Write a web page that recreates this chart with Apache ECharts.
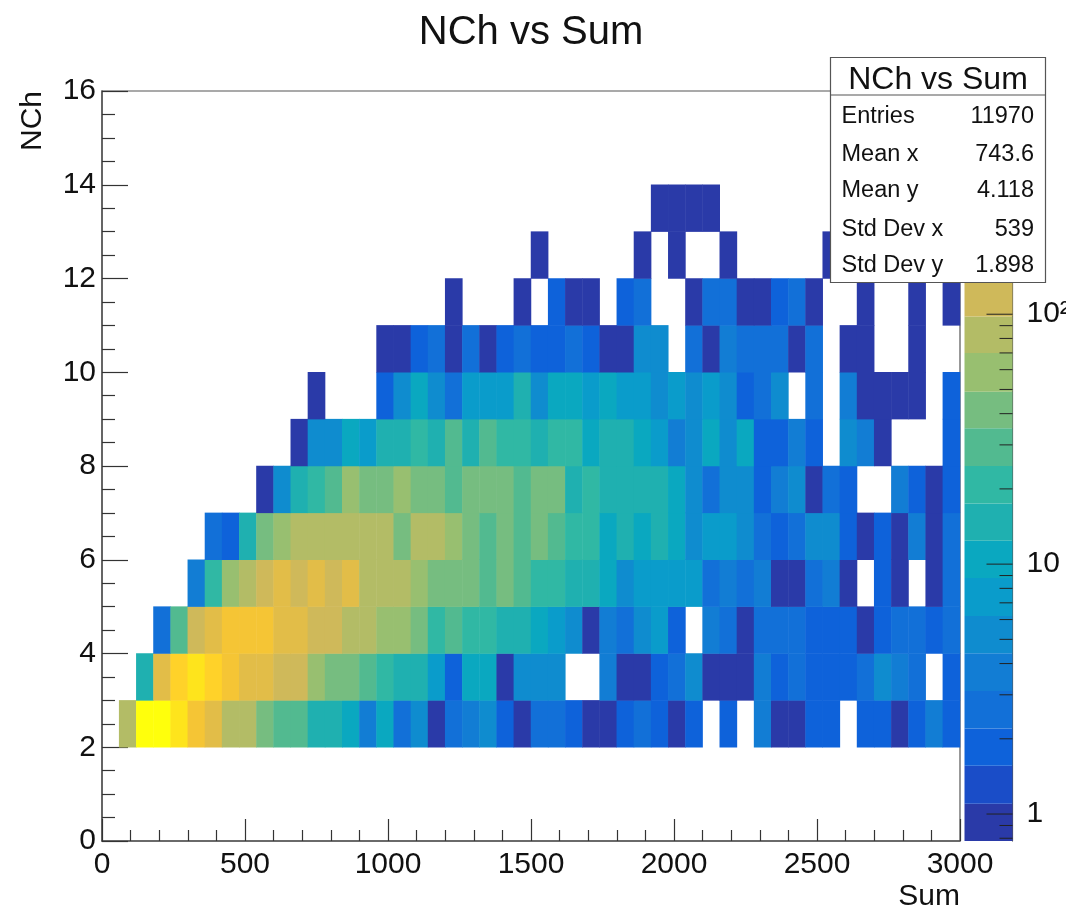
<!DOCTYPE html>
<html>
<head>
<meta charset="utf-8">
<style>html,body{margin:0;padding:0;background:#fff}#c{width:1066px;height:910px}</style>
<script src="https://cdn.jsdelivr.net/npm/echarts@6/dist/echarts.min.js"></script>
</head>
<body>
<div id="c"></div>
<script>
// Bin counts per NCh row (each row = 50 bins of width 60 in Sum). 0 = empty bin.
const nch2  = [0,85,650,650,470,235,165,85,85,42,30,30,15,15,10,4,10,3,5,1,3,4,5,2,1,3,3,2,1,1,2,3,2,1,2,0,2,0,4,1,1,2,2,0,2,2,1,2,4,2];
const nch3  = [0,0,15,165,330,470,330,235,165,165,120,120,60,42,42,30,20,15,15,7,2,10,10,1,5,5,5,0,0,4,1,1,2,3,5,1,1,1,4,2,3,2,2,2,3,5,4,3,0,2];
const nch4  = [0,0,0,3,30,120,165,235,235,235,165,165,120,120,85,85,60,60,42,20,30,20,20,15,15,10,7,5,1,4,3,5,7,2,0,4,3,1,3,3,3,2,2,2,1,2,3,3,2,3];
const nch5  = [0,0,0,0,0,4,20,60,85,120,165,120,165,120,165,85,85,85,60,42,42,42,30,42,30,20,20,15,15,10,5,7,7,7,7,3,4,3,4,1,1,3,4,1,0,2,1,0,1,3];
const nch6  = [0,0,0,0,0,0,3,2,15,42,60,85,85,85,85,85,85,42,85,85,60,42,30,42,30,42,30,20,20,10,15,10,15,10,5,7,7,5,3,2,3,5,5,2,1,2,1,4,1,3];
const nch7  = [0,0,0,0,0,0,0,0,0,1,5,15,20,30,60,42,42,60,42,42,30,42,42,42,30,42,42,15,20,15,15,15,15,10,5,3,5,5,2,4,5,1,3,2,0,0,4,2,1,2];
const nch8  = [0,0,0,0,0,0,0,0,0,0,0,1,5,5,10,7,15,15,20,15,30,15,30,20,20,15,20,20,10,15,15,10,7,4,5,10,5,10,2,2,4,2,0,5,4,1,0,0,0,2];
const nch9  = [0,0,0,0,0,0,0,0,0,0,0,0,1,0,0,0,2,5,10,5,3,7,7,7,15,5,10,10,7,10,7,7,5,7,5,7,5,2,3,5,0,3,0,4,1,1,1,1,0,2];
const nch10 = [0,0,0,0,0,0,0,0,0,0,0,0,0,0,0,0,1,1,2,3,1,3,1,2,3,2,2,3,2,1,1,5,5,0,3,1,4,3,3,3,1,3,0,1,1,0,0,1,0,0];
const nch11 = [0,0,0,0,0,0,0,0,0,0,0,0,0,0,0,0,0,0,0,0,1,0,0,0,1,0,2,1,1,0,2,3,0,0,1,3,3,1,1,2,3,1,0,0,1,0,0,1,0,1];
const nch12 = [0,0,0,0,0,0,0,0,0,0,0,0,0,0,0,0,0,0,0,0,0,0,0,0,0,1,0,0,0,0,0,1,0,1,0,0,1,0,0,0,0,0,1,0,0,0,0,0,0,0];
const nch13 = [0,0,0,0,0,0,0,0,0,0,0,0,0,0,0,0,0,0,0,0,0,0,0,0,0,0,0,0,0,0,0,0,1,1,1,1,0,0,0,0,0,0,0,0,0,0,0,0,0,0];
const rowNumbers = [2,3,4,5,6,7,8,9,10,11,12,13];
const rows = [nch2,nch3,nch4,nch5,nch6,nch7,nch8,nch9,nch10,nch11,nch12,nch13];

// Colour scale: 20 logarithmic contour levels
const levelEdges = [0.78,1.10,1.56,2.2,3.11,4.4,6.2,8.8,12.4,17.5,24.7,35,49,70,98,139,196,277,392,553,782];
const levelColors = ['#2a3aa8','#1a4dc8','#0e62da','#1270d8','#127dd4','#0f8ccf','#0a9ccb','#0aa8c0','#1fb0b0','#30b8a4',
                     '#52ba90','#76bd80','#98bf70','#b3bc66','#cfb95a','#e2bd48','#f5c535','#ffd229','#fee41c','#ffff0c'];
const barMajorTicks = [1,10,100];
const barMinorTicks = [0.8,0.9,2,3,4,5,6,7,8,9,20,30,40,50,60,70,80,90,200,300,400,500,600,700];

// Statistics box
const statsTitle = 'NCh vs Sum';
const statsLabels = ['Entries','Mean x','Mean y','Std Dev x','Std Dev y'];
const statsValues = ['11970','743.6','4.118','539','1.898'];

const FONT = '"Liberation Sans", Arial, sans-serif';
const INK = '#111';
const FRAME = '#555';

const binLabels = Array.from({length: nch2.length}, (_, i) => i);
const rowLabels = Array.from({length: 16}, (_, i) => i);
const cells = [];
rows.forEach((r, k) => r.forEach((v, i) => { if (v > 0) cells.push([i, rowNumbers[k], v]); }));

const pieces = levelColors.map((color, i) => ({gt: levelEdges[i], lte: levelEdges[i + 1], color}));
const bandData = levelColors.map((color, i) => [levelEdges[i], levelEdges[i + 1], i]);
const tickData = barMajorTicks.map(v => [v, 26]).concat(barMinorTicks.map(v => [v, 13]));
const statRowY = [117, 155, 191, 230, 266];

const graphics = [
  {type:'rect', z:100, shape:{x:830.5,y:57.5,width:215,height:225}, style:{fill:'#fff',stroke:FRAME,lineWidth:1.2}},
  {type:'line', z:101, shape:{x1:830.5,y1:95,x2:1045.5,y2:95}, style:{stroke:FRAME,lineWidth:1.2}},
  {type:'text', z:101, style:{x:938,y:80,text:statsTitle,font:'32px '+FONT,fill:INK,textAlign:'center',textVerticalAlign:'middle'}}
];
statsLabels.forEach((t, i) => {
  graphics.push({type:'text', z:101, style:{x:841.5,y:statRowY[i],text:t,font:'23.5px '+FONT,fill:INK,textAlign:'left',textVerticalAlign:'middle'}});
  graphics.push({type:'text', z:101, style:{x:1034,y:statRowY[i],text:statsValues[i],font:'23.5px '+FONT,fill:INK,textAlign:'right',textVerticalAlign:'middle'}});
});

const chart = echarts.init(document.getElementById('c'), null, {renderer:'canvas'});
chart.setOption({
  animation:false,
  backgroundColor:'#fff',
  title:{text:'NCh vs Sum', left:526, top:8, textAlign:'center',
         textStyle:{fontFamily:FONT,fontSize:40,fontWeight:'normal',color:INK}},
  grid:[
    {left:102, top:91, width:858, height:750, show:true, backgroundColor:'#fff', borderColor:FRAME, borderWidth:1.2, outerBoundsMode:'none'},
    {left:964.5, top:91, width:48, height:750, show:false, outerBoundsMode:'none'}
  ],
  xAxis:[
    {type:'category', gridIndex:0, data:binLabels, show:false},
    {type:'value', gridIndex:0, position:'bottom', min:0, max:3000, interval:500,
     name:'Sum', nameLocation:'end', nameGap:0,
     nameTextStyle:{fontFamily:FONT,fontSize:30,color:INK,align:'right',verticalAlign:'top',padding:[41,0,0,0]},
     axisLine:{show:true,onZero:false,lineStyle:{color:FRAME,width:1.5}},
     axisTick:{show:true,inside:true,length:22,lineStyle:{color:'#333',width:1.2}},
     minorTick:{show:true,splitNumber:5,length:11,lineStyle:{color:'#333',width:1.2}},
     splitLine:{show:false},minorSplitLine:{show:false},
     axisLabel:{fontFamily:FONT,fontSize:30,color:INK,margin:9,showMinLabel:true,showMaxLabel:true,hideOverlap:false,
       formatter:function(v){return String(v);}}},
    {type:'value', gridIndex:1, min:0, max:1, show:false}
  ],
  yAxis:[
    {type:'category', gridIndex:0, data:rowLabels, show:false},
    {type:'value', gridIndex:0, position:'left', min:0, max:16, interval:2,
     name:'NCh', nameLocation:'end', nameGap:0, nameRotate:90,
     nameTextStyle:{fontFamily:FONT,fontSize:30,color:INK,align:'right',verticalAlign:'bottom',padding:[0,0,54,0]},
     axisLine:{show:true,onZero:false,lineStyle:{color:FRAME,width:1.5}},
     axisTick:{show:true,inside:true,length:26,lineStyle:{color:'#333',width:1.2}},
     minorTick:{show:true,splitNumber:4,length:13,lineStyle:{color:'#333',width:1.2}},
     splitLine:{show:false},minorSplitLine:{show:false},
     axisLabel:{fontFamily:FONT,fontSize:30,color:INK,margin:6,padding:[4,0,0,0],showMinLabel:true,showMaxLabel:true,hideOverlap:false}},
    {type:'log', gridIndex:1, position:'right', logBase:10, min:levelEdges[0], max:levelEdges[levelEdges.length-1],
     axisLine:{show:true,onZero:false,lineStyle:{color:FRAME,width:1.2}},
     axisTick:{show:false}, minorTick:{show:false}, splitLine:{show:false}, minorSplitLine:{show:false},
     axisLabel:{fontFamily:FONT,fontSize:30,color:INK,margin:14,padding:[4,0,0,0],showMinLabel:false,showMaxLabel:false,hideOverlap:false,
       formatter:function(v){
         if (Math.abs(v-1)<1e-6) return '1';
         if (Math.abs(v-10)<1e-6) return '10';
         if (Math.abs(v-100)<1e-6) return '10²';
         return '';
       }}}
  ],
  visualMap:{show:false, type:'piecewise', seriesIndex:0, dimension:2, pieces:pieces, outOfRange:{color:'#fff'}},
  series:[
    {type:'heatmap', xAxisIndex:0, yAxisIndex:0, data:cells, progressive:0, emphasis:{disabled:true},
     itemStyle:{borderWidth:0}},
    {type:'custom', xAxisIndex:2, yAxisIndex:2, data:bandData, encode:{y:[0,1]}, silent:true, clip:false,
     renderItem:function(params, api){
       const a = api.coord([0, api.value(0)]);
       const b = api.coord([1, api.value(1)]);
       return {type:'rect', shape:{x:a[0], y:b[1], width:b[0]-a[0], height:a[1]-b[1]},
               style:{fill:levelColors[api.value(2)]}};
     }},
    {type:'custom', xAxisIndex:2, yAxisIndex:2, data:tickData, encode:{y:0}, silent:true, clip:false, z:5,
     renderItem:function(params, api){
       const p = api.coord([1, api.value(0)]);
       return {type:'line', shape:{x1:p[0], y1:p[1], x2:p[0]-api.value(1), y2:p[1]},
               style:{stroke:'#222', lineWidth:1}};
     }}
  ],
  graphic:graphics
});
</script>
</body>
</html>
